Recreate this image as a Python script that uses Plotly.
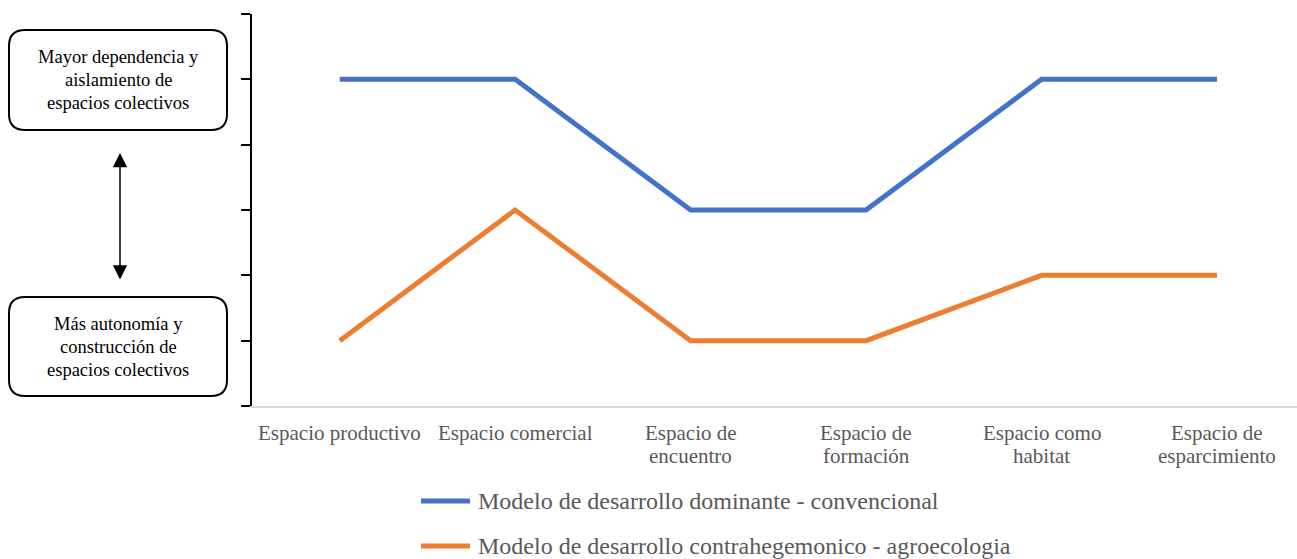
import plotly.graph_objects as go

categories = ["Espacio productivo", "Espacio comercial", "Espacio de<br>encuentro",
              "Espacio de<br>formación", "Espacio como<br>habitat", "Espacio de<br>esparcimiento"]
dominante = [5, 5, 3, 3, 5, 5]
agroecologia = [1, 3, 1, 1, 2, 2]
name_dom = "Modelo de desarrollo dominante - convencional"
name_agro = "Modelo de desarrollo contrahegemonico - agroecologia"
box_top = "Mayor dependencia y<br>aislamiento de<br>espacios colectivos"
box_bottom = "Más autonomía y<br>construcción de<br>espacios colectivos"

BLUE = "#4472C4"
ORANGE = "#ED7D31"
SERIF = "Liberation Serif, Times New Roman, serif"

W, H = 1297, 559
L, R, T, B = 252, 0, 14, 153
PW = W - L - R
PH = H - T - B

def px(x):
    return (x - L) / PW

def py(y):
    return (H - B - y) / PH

fig = go.Figure()
xs = list(range(len(categories)))
fig.add_trace(go.Scatter(x=xs, y=dominante, mode="lines", name=name_dom,
                         line=dict(color=BLUE, width=5), showlegend=False))
fig.add_trace(go.Scatter(x=xs, y=agroecologia, mode="lines", name=name_agro,
                         line=dict(color=ORANGE, width=5), showlegend=False))

def rounded_box(x0, y0, x1, y1, r):
    X0, X1 = px(x0), px(x1)
    Y0, Y1 = py(y0), py(y1)
    rx = r / PW
    ry = r / PH
    p = (f"M{X0 + rx},{Y0} L{X1 - rx},{Y0} Q{X1},{Y0} {X1},{Y0 - ry} "
         f"L{X1},{Y1 + ry} Q{X1},{Y1} {X1 - rx},{Y1} "
         f"L{X0 + rx},{Y1} Q{X0},{Y1} {X0},{Y1 + ry} "
         f"L{X0},{Y0 - ry} Q{X0},{Y0} {X0 + rx},{Y0} Z")
    return dict(type="path", path=p, xref="paper", yref="paper",
                line=dict(color="black", width=2), fillcolor="white", layer="below")

shapes = [rounded_box(9, 30, 227, 130, 16), rounded_box(9, 297, 227, 396, 16)]

annotations = []

def add_lines(text, xc, ytop, spacing, size, color, xref="paper"):
    for i, line in enumerate(text.split("<br>")):
        annotations.append(dict(text=line, x=xc, y=py(ytop + i * spacing), xref=xref,
                                yref="paper", xanchor="center", yanchor="middle",
                                showarrow=False,
                                font=dict(family=SERIF, size=size, color=color)))

add_lines(box_top, px(118), 57, 23, 18.5, "black")
add_lines(box_bottom, px(118), 324, 23, 18.5, "black")

for i, cat in enumerate(categories):
    add_lines(cat, i, 433, 23, 21, "#595959", xref="x")

# double-headed arrow
annotations.append(dict(text="", x=px(120), y=py(153), ax=0, ay=128, xref="paper", yref="paper",
                        axref="pixel", ayref="pixel", showarrow=True, arrowhead=2,
                        startarrowhead=2, arrowside="end+start", arrowwidth=1.5,
                        arrowsize=1.9, startarrowsize=1.9, arrowcolor="black",
                        standoff=0, startstandoff=0))

# legend (drawn manually)
for name, color, yy in [(name_dom, BLUE, 501), (name_agro, ORANGE, 546)]:
    shapes.append(dict(type="line", xref="paper", yref="paper", x0=px(421), x1=px(470),
                       y0=py(yy), y1=py(yy), line=dict(color=color, width=5)))
    annotations.append(dict(text=name, x=px(476), y=py(yy), xref="paper", yref="paper",
                            xanchor="left", yanchor="middle", showarrow=False,
                            font=dict(family=SERIF, size=24, color="#595959")))

fig.update_layout(
    width=W, height=H,
    margin=dict(l=L, r=R, t=T, b=B, autoexpand=False),
    paper_bgcolor="white", plot_bgcolor="white",
    shapes=shapes, annotations=annotations,
    xaxis=dict(range=[-0.5, 5.456], tickvals=xs, showticklabels=False,
               showgrid=False, zeroline=False, showline=True, linecolor="#D9D9D9",
               linewidth=2, ticks=""),
    yaxis=dict(range=[0, 6], tickvals=list(range(7)), showticklabels=False,
               showgrid=False, zeroline=False, showline=True, linecolor="black",
               linewidth=2, ticks="outside", ticklen=9, tickwidth=2, tickcolor="black"),
    showlegend=False,
)

fig.write_html("out.html", config={"displayModeBar": False},
               post_script="document.body.style.margin='0';")
